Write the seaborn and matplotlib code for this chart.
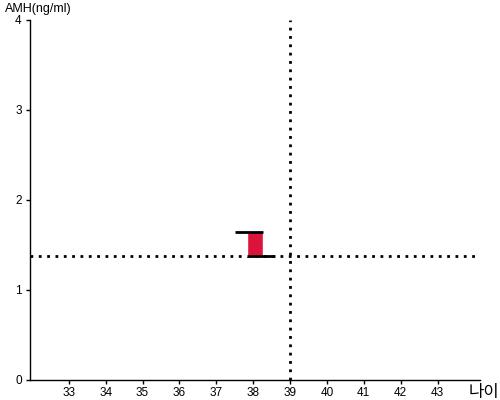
import matplotlib
matplotlib.use("Agg")
import matplotlib.pyplot as plt
import seaborn as sns

# Data
age = [38.04]
amh_low = [1.38]
amh_high = [1.64]
top_line = [37.5, 38.26]
bottom_line = [37.82, 38.58]
ref_age = 39
ref_amh = 1.38
x_ticks = [33, 34, 35, 36, 37, 38, 39, 40, 41, 42, 43]
y_ticks = [0, 1, 2, 3, 4]

sns.set_style("white")
plt.rcParams['font.family'] = ['Liberation Sans', 'Noto Sans CJK KR', 'DejaVu Sans']
plt.rcParams['text.color'] = 'black'
plt.rcParams['xtick.color'] = 'black'
plt.rcParams['ytick.color'] = 'black'

fig = plt.figure(figsize=(5, 4), dpi=100)
ax = fig.add_axes([0.06, 0.05, 0.9, 0.9])

# red box
ax.bar(age, [h - l for h, l in zip(amh_high, amh_low)], bottom=amh_low,
       width=0.44, color="#DC143C", zorder=3)
ax.hlines(amh_high, top_line[0], top_line[1], color="black", lw=2, zorder=4)
ax.hlines(amh_low, bottom_line[0], bottom_line[1], color="black", lw=2, zorder=4)

# reference lines
ax.axvline(ref_age, color="black", ls=(0, (1, 2)), lw=2, zorder=2)
ax.axhline(ref_amh, color="black", ls=(0, (1, 2)), lw=2, zorder=2)

ax.set_xlim(31.95, 44.15)
ax.set_ylim(0, 4)
ax.set_xticks(x_ticks)
ax.set_yticks(y_ticks)
ax.tick_params(axis="x", length=3, width=1, labelsize=8.5, pad=2, bottom=True)
ax.tick_params(axis="y", length=3, width=1, labelsize=8.5, pad=3, left=True)
sns.despine(ax=ax)
for s in ["left", "bottom"]:
    ax.spines[s].set_color("black")
    ax.spines[s].set_linewidth(1)

fig.text(0.01, 0.992, "AMH(ng/ml)", fontsize=9, ha="left", va="top")
fig.text(0.998, 0.0, "나이", fontsize=12, ha="right", va="bottom")

fig.savefig("out.png", dpi=100)
